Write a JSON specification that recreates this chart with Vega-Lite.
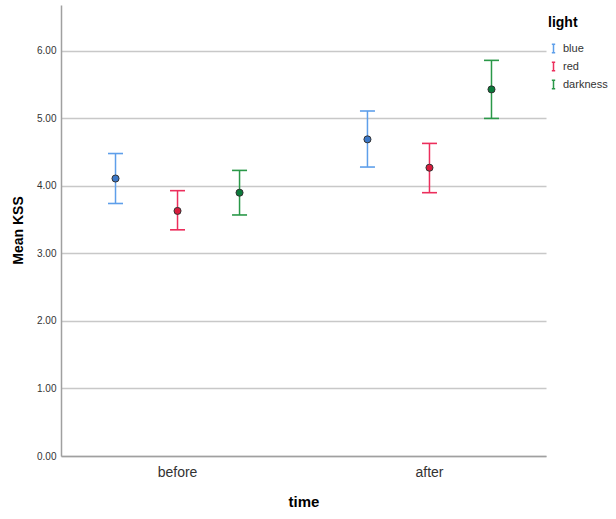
{
  "$schema": "https://vega.github.io/schema/vega-lite/v6.json",
  "width": 485,
  "height": 451,
  "autosize": {"type": "none"},
  "padding": {"left": 61, "top": 5, "right": 70, "bottom": 63},
  "background": "white",
  "config": {
    "view": {"stroke": null},
    "font": "Liberation Sans",
    "axis": {"domainColor": "#a0a0a0", "domainWidth": 1.5, "ticks": false, "labelColor": "#333333", "titleColor": "#000000", "titleFontWeight": "bold"}
  },
  "data": {"values": [
    {"time": "before", "light": "blue", "mean": 4.11, "lo": 3.74, "hi": 4.48},
    {"time": "before", "light": "red", "mean": 3.63, "lo": 3.35, "hi": 3.93},
    {"time": "before", "light": "darkness", "mean": 3.90, "lo": 3.57, "hi": 4.23},
    {"time": "after", "light": "blue", "mean": 4.69, "lo": 4.28, "hi": 5.11},
    {"time": "after", "light": "red", "mean": 4.27, "lo": 3.90, "hi": 4.63},
    {"time": "after", "light": "darkness", "mean": 5.43, "lo": 5.00, "hi": 5.86}
  ]},
  "encoding": {
    "x": {"field": "time", "type": "nominal", "sort": ["before", "after"],
      "scale": {"paddingInner": 0.075, "paddingOuter": 0},
      "axis": {"title": "time", "labelAngle": 0, "labelFontSize": 14, "labelPadding": 9, "titleFontSize": 15, "titlePadding": 15, "grid": false}},
    "xOffset": {"field": "light", "type": "nominal", "sort": ["blue", "red", "darkness"],
      "scale": {"paddingInner": 0, "paddingOuter": 0.379}},
    "color": {"field": "light", "type": "nominal", "sort": ["blue", "red", "darkness"],
      "scale": {"domain": ["blue", "red", "darkness"], "range": ["#5e9fea", "#ec2e5c", "#2a9848"]},
      "legend": {"title": "light", "orient": "none", "legendX": 487, "legendY": 11, "titleFontSize": 14, "titleFontWeight": "bold", "titleColor": "#000", "titlePadding": 13, "labelFontSize": 11, "labelColor": "#333", "symbolType": "M-0.4,-1H0.4M0,-1V1M-0.4,1H0.4", "symbolSize": 70, "symbolStrokeWidth": 1.5, "symbolOpacity": 1, "symbolFillColor": "transparent", "rowPadding": 3, "labelOffset": 4, "padding": 0}}
  },
  "layer": [
    {
      "mark": {"type": "rule", "strokeWidth": 1.5, "opacity": 1},
      "encoding": {
        "y": {"field": "lo", "type": "quantitative",
          "scale": {"domain": [0, 6.68], "nice": false, "zero": true},
          "axis": {"title": "Mean KSS", "format": ".2f", "values": [0, 1, 2, 3, 4, 5, 6], "grid": true, "gridColor": "#c8c8c8", "gridWidth": 1.5, "labelFontSize": 10, "labelPadding": 5, "titleFontSize": 14, "titleX": -43, "titleY": 225, "titleBaseline": "middle", "titleAnchor": "middle"}},
        "y2": {"field": "hi"}
      }
    },
    {
      "mark": {"type": "tick", "orient": "horizontal", "size": 15, "thickness": 1.6, "opacity": 1},
      "encoding": {"y": {"field": "lo", "type": "quantitative"}}
    },
    {
      "mark": {"type": "tick", "orient": "horizontal", "size": 15, "thickness": 1.6, "opacity": 1},
      "encoding": {"y": {"field": "hi", "type": "quantitative"}}
    },
    {
      "mark": {"type": "point", "filled": true, "size": 50, "opacity": 1, "stroke": "#333333", "strokeWidth": 1},
      "encoding": {
        "y": {"field": "mean", "type": "quantitative"},
        "fill": {"field": "light", "type": "nominal", "legend": null,
          "scale": {"domain": ["blue", "red", "darkness"], "range": ["#3b78c8", "#d81b3c", "#0b7a3a"]}}
      }
    }
  ],
  "resolve": {"scale": {"color": "shared"}}
}
